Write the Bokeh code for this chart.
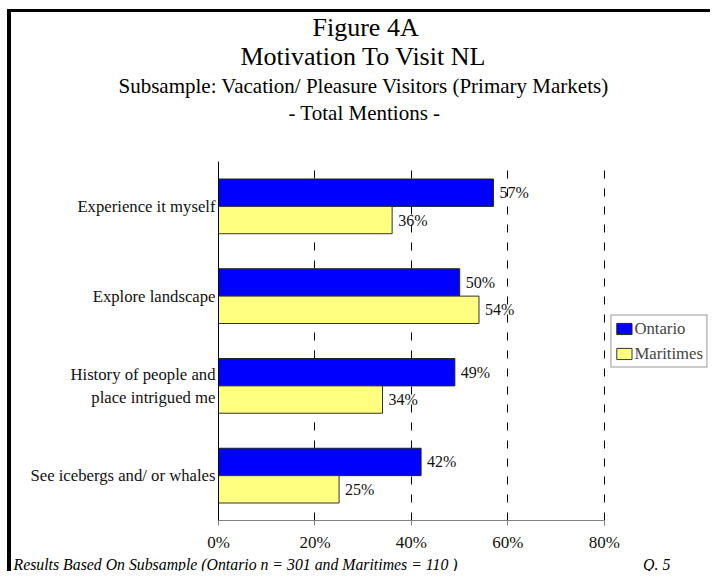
from bokeh.plotting import figure
from bokeh.models import (ColumnDataSource, FactorRange, Range1d, FixedTicker,
                          PrintfTickFormatter, Legend, LegendItem, LabelSet, Title, Spacer)
from bokeh.transform import dodge
from bokeh.layouts import column, row
from bokeh.embed import file_html
from bokeh.resources import INLINE

# ---- data ----
categories = ["Experience it myself", "Explore landscape",
              "History of people and\nplace intrigued me", "See icebergs and/ or whales"]
ontario = [57, 50, 49, 42]
maritimes = [36, 54, 34, 25]
series_names = ["Ontario", "Maritimes"]
x_ticks = [0, 20, 40, 60, 80]

SERIF = "Liberation Serif"
BLUE = "#0000FF"
YELLOW = "#FFFF80"
X_END = 102.0  # frame extends right of 80% so the legend sits beside the bars

src = ColumnDataSource(dict(
    cat=categories,
    ont=ontario,
    mar=maritimes,
    ont_lbl=[f"{v}%" for v in ontario],
    mar_lbl=[f"{v}%" for v in maritimes],
))

W, H = 699, 559
p = figure(width=W, height=H, output_backend="svg", toolbar_location=None,
           y_range=FactorRange(factors=categories[::-1], range_padding=0),
           x_range=Range1d(0, X_END),
           min_border_left=207, min_border_right=0, min_border_top=149, min_border_bottom=49)
p.outline_line_color = None

r_ont = p.hbar(y=dodge("cat", 0.1525, range=p.y_range), right="ont", left=0, height=0.305,
               source=src, fill_color=BLUE, line_color="#222222", line_width=1)
r_mar = p.hbar(y=dodge("cat", -0.1525, range=p.y_range), right="mar", left=0, height=0.305,
               source=src, fill_color=YELLOW, line_color="#333333", line_width=1)

p.add_layout(LabelSet(x="ont", y=dodge("cat", 0.1525, range=p.y_range), text="ont_lbl", source=src,
                      x_offset=6, text_baseline="middle", text_font=SERIF, text_font_size="16px",
                      text_color="#111111"))
p.add_layout(LabelSet(x="mar", y=dodge("cat", -0.1525, range=p.y_range), text="mar_lbl", source=src,
                      x_offset=6, text_baseline="middle", text_font=SERIF, text_font_size="16px",
                      text_color="#111111"))

# axes
xt = FixedTicker(ticks=x_ticks)
p.xaxis.ticker = xt
p.xaxis.bounds = (x_ticks[0], x_ticks[-1])
p.xaxis.formatter = PrintfTickFormatter(format="%d%%")
p.xaxis.axis_line_color = "#808080"
p.xaxis.major_tick_line_color = "#808080"
p.xaxis.major_tick_out = 5
p.xaxis.major_tick_in = 0
p.xaxis.minor_tick_line_color = None
p.xaxis.major_label_text_font = SERIF
p.xaxis.major_label_text_font_size = "17px"
p.xaxis.major_label_text_color = "#111111"
p.xaxis.major_label_standoff = 7

p.yaxis.axis_line_color = "black"
p.yaxis.major_tick_line_color = None
p.yaxis.minor_tick_line_color = None
p.yaxis.major_tick_out = 0
p.yaxis.major_tick_in = 0
p.yaxis.major_label_text_font = SERIF
p.yaxis.major_label_text_font_size = "16.7px"
p.yaxis.major_label_text_color = "#111111"
p.yaxis.major_label_standoff = 3

p.xgrid.ticker = xt
p.xgrid.grid_line_color = "black"
p.xgrid.grid_line_dash = "8 10"
p.xgrid.grid_line_width = 1
p.ygrid.grid_line_color = None

legend = Legend(items=[LegendItem(label=series_names[0], renderers=[r_ont]),
                       LegendItem(label=series_names[1], renderers=[r_mar])],
                location="center_right", border_line_color="#333333", border_line_width=1,
                background_fill_color="white", background_fill_alpha=1,
                padding=3, spacing=5, margin=3, glyph_width=19, glyph_height=14,
                label_standoff=1, label_text_font=SERIF, label_text_font_size="16.7px",
                label_height=20)
p.add_layout(legend, "center")

# blank gap between the titles and the plot frame
p.add_layout(Title(text="\u00a0", text_font_size="1px", standoff=33), "above")

# titles, nearest to the frame first: (text, size, offset from frame left, standoff, v-align)
titles = [("- Total Mentions -", "21px", 70, 2, "bottom"),
          ("Subsample: Vacation/ Pleasure Visitors (Primary Markets)", "21px", -100, -1, "bottom"),
          ("Motivation To Visit NL", "26px", 22, 4, "bottom"),
          ("Figure 4A", "26px", 94, -12, "top")]
for txt, size, off, so, va in titles:
    p.add_layout(Title(text=txt, align="left", offset=off, standoff=so, vertical_align=va,
                       text_font=SERIF, text_font_size=size, text_font_style="normal",
                       text_color="black"),
                 "above")

footer = ("Results Based On Subsample (Ontario n = 301 and Maritimes = 110 )"
          + "\u00a0" * 47 + "Q. 5")
p.add_layout(Title(text=footer, align="left", offset=-205, standoff=-2, text_font=SERIF,
                   text_font_size="15.8px", text_font_style="italic", text_color="black"),
             "below")

BLACK = {"background-color": "black"}
layout = column(
    Spacer(width=710, height=9),
    row(Spacer(width=7, height=H + 3),
        column(Spacer(width=W + 4, height=3, styles=BLACK),
               row(Spacer(width=4, height=H, styles=BLACK), p))),
)

open("out.html", "w").write(file_html(layout, INLINE))
